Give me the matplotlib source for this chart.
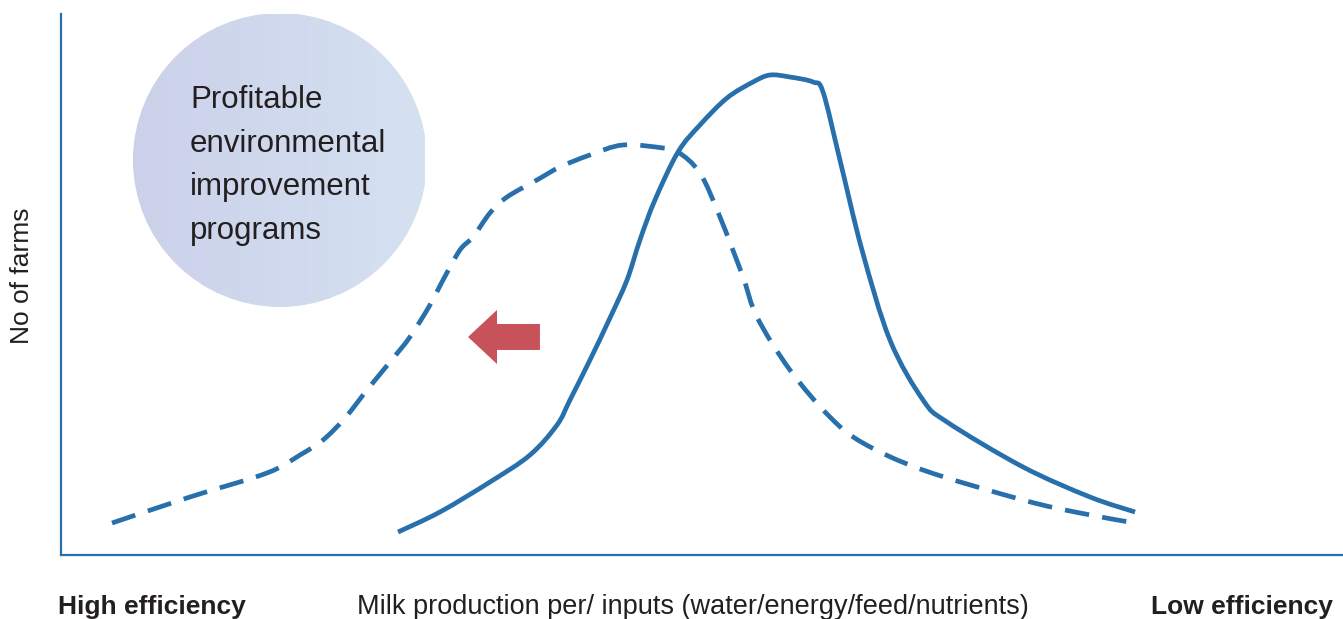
import matplotlib.pyplot as plt
from matplotlib.patches import Ellipse, FancyArrow, PathPatch
from matplotlib.path import Path
from matplotlib.colors import LinearSegmentedColormap
import numpy as np

plt.rcParams['font.family'] = ['Liberation Sans', 'DejaVu Sans']

# current distribution of farms (solid)
current_x = [26.29, 29.56, 33.46, 36.58, 38.69, 39.70, 41.26, 42.82, 44.15, 45.16,
             46.33, 48.13, 49.84, 51.95, 53.98, 55.30, 56.86, 58.66, 59.44, 60.76,
             62.48, 64.66, 67.24, 69.11, 75.04, 80.27, 83.78]
current_y = [4.25, 7.95, 13.49, 18.48, 24.03, 28.65, 36.04, 43.81, 50.83, 58.23,
             65.62, 74.49, 79.48, 84.47, 87.43, 88.72, 88.35, 87.43, 85.58, 73.01,
             56.38, 39.74, 28.65, 24.58, 16.27, 10.72, 7.95]

# shifted distribution after programs (dashed)
shifted_x = [3.98, 10.06, 16.07, 18.64, 20.44, 22.15, 23.87, 25.66, 27.22, 28.78,
             29.80, 31.12, 32.14, 33.46, 34.79, 37.13, 38.92, 41.26, 43.84, 46.96,
             48.13, 49.84, 51.40, 53.20, 54.29, 56.86, 59.98, 62.56, 67.24, 75.04,
             79.49, 83.78]
shifted_y = [5.91, 10.72, 15.16, 18.48, 21.26, 25.32, 30.50, 35.67, 40.30, 46.21,
             50.83, 56.38, 58.78, 63.22, 66.17, 69.32, 71.72, 73.94, 75.79, 75.23,
             74.49, 70.61, 62.48, 51.39, 43.99, 34.20, 25.51, 20.70, 15.71, 10.17,
             7.76, 5.91]

circle_text = "Profitable\nenvironmental\nimprovement\nprograms"
x_label = "Milk production per/ inputs (water/energy/feed/nutrients)"
y_label = "No of farms"
left_label = "High efficiency"
right_label = "Low efficiency"

blue = '#2870ac'
text_col = '#231f20'


def smooth_path(xs, ys):
    # catmull-rom through the points, drawn as cubic beziers
    pts = np.column_stack([xs, ys])
    n = len(pts)
    verts = [pts[0]]
    codes = [Path.MOVETO]
    for i in range(n - 1):
        p0 = pts[max(i - 1, 0)]
        p1 = pts[i]
        p2 = pts[i + 1]
        p3 = pts[min(i + 2, n - 1)]
        verts += [p1 + (p2 - p0) / 6, p2 - (p3 - p1) / 6, p2]
        codes += [Path.CURVE4] * 3
    return Path(verts, codes)


W, H = 1343, 619
fig = plt.figure(figsize=(W / 100, H / 100), dpi=100)
ax = fig.add_axes([61 / W, (H - 555) / H, (W - 61) / W, (555 - 14) / H])

# circle with light gradient, clipped on the right and bottom
cx, cy, cw, ch = 17.08, 73.01, 22.93, 54.34
circ = Ellipse((cx, cy), cw, ch, transform=ax.transData)
cmap = LinearSegmentedColormap.from_list('c', ['#cbd1ea', '#d5e1f1'])
grad = np.linspace(0, 1, 256).reshape(1, -1)
im = ax.imshow(grad, cmap=cmap, aspect='auto', interpolation='bilinear',
               extent=[cx - cw / 2, 28.39, 45.84, cy + ch / 2], zorder=1)
im.set_clip_path(circ)
ax.set_xlim(0, 100)
ax.set_ylim(0, 100)

ax.text(10.06, 72.0, circle_text, fontsize=22.5, color=text_col, ha='left',
        va='center', linespacing=1.6, zorder=3)

ax.add_patch(PathPatch(smooth_path(current_x, current_y), fill=False, ec=blue,
                       lw=3.4, capstyle='butt', joinstyle='round', zorder=4))
ax.add_patch(PathPatch(smooth_path(shifted_x, shifted_y), fill=False, ec=blue,
                       lw=3.4, ls=(0, (5.2, 2.8)), capstyle='butt', zorder=4))

ax.add_patch(FancyArrow(37.36, 40.30, -5.61, 0, width=4.8, head_width=10.0,
                        head_length=2.26, length_includes_head=True,
                        color='#c8525a', lw=0, zorder=5))

for s in ['top', 'right']:
    ax.spines[s].set_visible(False)
for s in ['left', 'bottom']:
    ax.spines[s].set_color(blue)
    ax.spines[s].set_linewidth(1.6)
ax.set_xticks([])
ax.set_yticks([])

fig.text(22 / W, (H - 276) / H, y_label, rotation=90, fontsize=19,
         color=text_col, ha='center', va='center')
fig.text(58 / W, 5 / H, left_label, fontsize=19, fontweight='bold',
         color=text_col, ha='left', va='baseline')
fig.text(693 / W, 5 / H, x_label, fontsize=19.5, color=text_col,
         ha='center', va='baseline')
fig.text(1333 / W, 5 / H, right_label, fontsize=19, fontweight='bold',
         color=text_col, ha='right', va='baseline')

fig.savefig('out.png', dpi=100)
